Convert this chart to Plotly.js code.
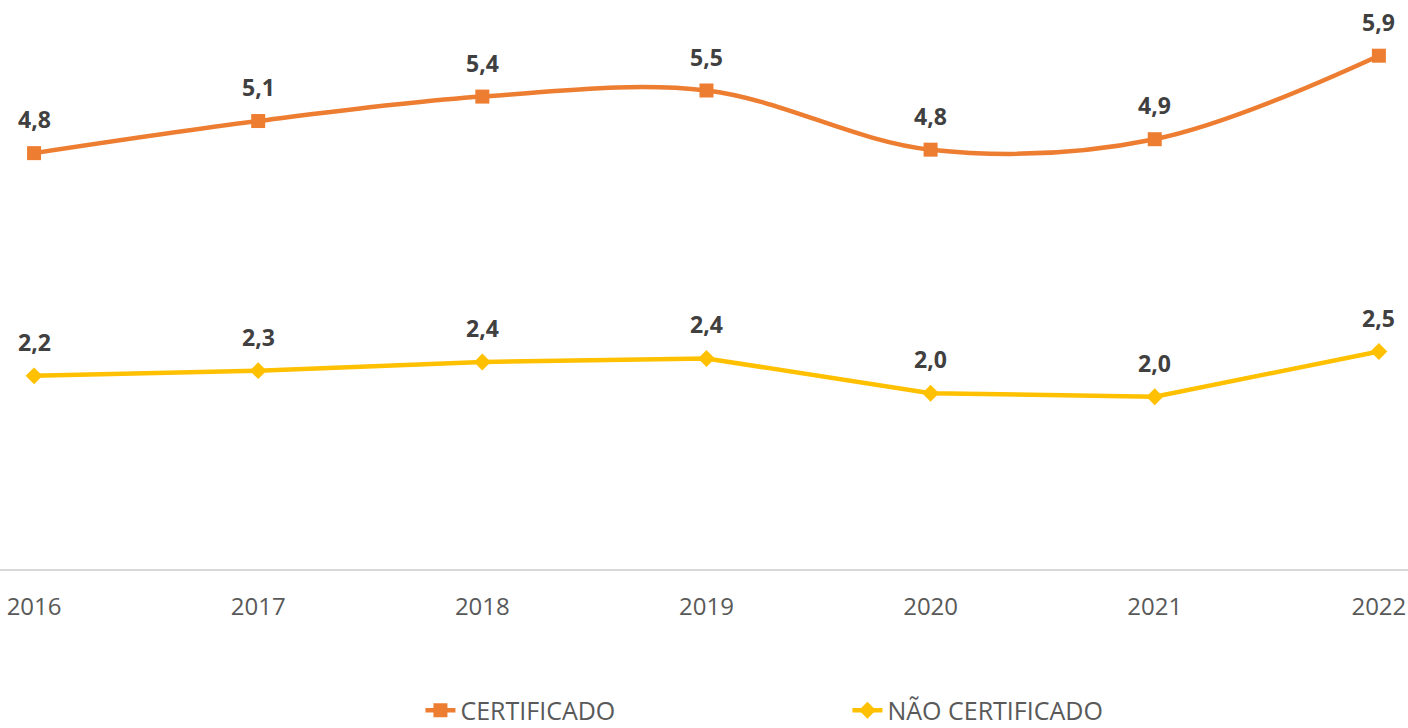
<!DOCTYPE html>
<html>
<head>
<meta charset="utf-8">
<script src="https://cdn.plot.ly/plotly-3.0.1.min.js"></script>
<style>html,body{margin:0;padding:0;background:#fff;}#chart{width:1408px;height:728px;}</style>
</head>
<body>
<div id="chart"></div>
<script>
const years = [2016, 2017, 2018, 2019, 2020, 2021, 2022];
const certificado = [4.78, 5.149, 5.43, 5.5, 4.82, 4.94, 5.9];
const naoCertificado = [2.22, 2.28, 2.38, 2.42, 2.02, 1.98, 2.5];
const seriesNames = ['CERTIFICADO', 'NÃO CERTIFICADO'];

const fmt = v => v.toFixed(1).replace('.', ',');

const traces = [
  {
    x: years, y: certificado, name: seriesNames[0], type: 'scatter', mode: 'lines+markers',
    line: {color: '#ED7D31', width: 4.5, shape: 'spline', smoothing: 1},
    marker: {symbol: 'square', size: 14, color: '#ED7D31'},
    hoverinfo: 'skip'
  },
  {
    x: years, y: naoCertificado, name: seriesNames[1], type: 'scatter', mode: 'lines+markers',
    line: {color: '#FFC000', width: 4.5},
    marker: {symbol: 'diamond', size: 13, color: '#FFC000'},
    hoverinfo: 'skip'
  }
];

const annotations = [];
[certificado, naoCertificado].forEach(arr => {
  arr.forEach((v, i) => {
    annotations.push({
      x: years[i], y: v, xref: 'x', yref: 'y', text: '<b>' + fmt(v) + '</b>',
      showarrow: false, yanchor: 'middle', xanchor: 'center', yshift: 34,
      font: {family: 'Open Sans, sans-serif', size: 23, color: '#404040'}
    });
  });
});

const layout = {
  width: 1408, height: 728,
  margin: {l: 0, r: 0, t: 47, b: 159, autoexpand: false},
  paper_bgcolor: '#ffffff', plot_bgcolor: '#ffffff',
  showlegend: true,
  legend: {
    orientation: 'h', x: 0.2986, xanchor: 'left', y: -0.271, yanchor: 'middle',
    entrywidth: 382, entrywidthmode: 'pixels',
    font: {family: 'Open Sans, sans-serif', size: 25, color: '#595959'}
  },
  xaxis: {
    range: [2015.848, 2022.13], tickmode: 'array', tickvals: years, ticktext: years.map(String),
    showgrid: false, zeroline: false, showline: true, linecolor: '#D9D9D9', linewidth: 2,
    ticks: '', ticklabelstandoff: 15, automargin: false,
    tickfont: {family: 'Open Sans, sans-serif', size: 24, color: '#595959'},
    fixedrange: true
  },
  yaxis: {range: [0, 6], visible: false, fixedrange: true, automargin: false},
  annotations: annotations
};

Plotly.newPlot('chart', traces, layout, {displayModeBar: false, staticPlot: true});
</script>
</body>
</html>
